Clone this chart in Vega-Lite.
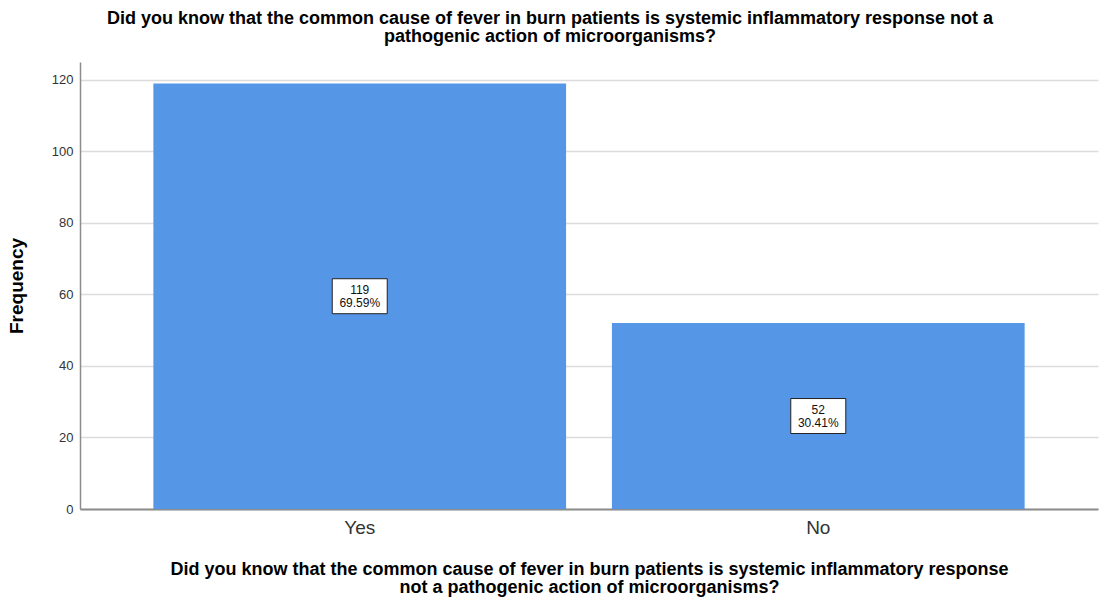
{
  "$schema": "https://vega.github.io/schema/vega-lite/v6.json",
  "width": 1018,
  "height": 447,
  "autosize": "none",
  "padding": {"left": 80, "top": 62, "right": 1, "bottom": 92},
  "background": "white",
  "config": {
    "font": "Liberation Sans",
    "view": {"stroke": null}
  },
  "title": {
    "text": ["Did you know that the common cause of fever in burn patients is systemic inflammatory response not a", "pathogenic action of microorganisms?"],
    "anchor": "middle",
    "dx": -39,
    "offset": 16,
    "fontSize": 18,
    "fontWeight": "bold",
    "lineHeight": 18,
    "color": "#000000",
    "font": "Liberation Sans"
  },
  "data": {
    "values": [
      {"answer": "Yes", "count": 119, "pct": "69.59%"},
      {"answer": "No", "count": 52, "pct": "30.41%"}
    ]
  },
  "transform": [{"calculate": "datum.count / 2", "as": "mid"}],
  "encoding": {
    "x": {
      "field": "answer",
      "type": "nominal",
      "sort": ["Yes", "No"],
      "scale": {"paddingInner": 0.1, "paddingOuter": 0.16},
      "axis": {
        "title": ["Did you know that the common cause of fever in burn patients is systemic inflammatory response", "not a pathogenic action of microorganisms?"],
        "titleFontSize": 18,
        "titleFontWeight": "bold",
        "titleLineHeight": 18,
        "titleColor": "#000000",
        "titlePadding": 23,
        "labelAngle": 0,
        "labelFontSize": 19,
        "labelColor": "#333333",
        "labelPadding": 9,
        "ticks": false,
        "domainColor": "#8c8c8c",
        "domainWidth": 2,
        "grid": false
      }
    }
  },
  "layer": [
    {
      "mark": {"type": "bar", "color": "#5596E6"},
      "encoding": {
        "y": {
          "field": "count",
          "type": "quantitative",
          "scale": {"domain": [0, 125], "nice": false},
          "axis": {
            "title": "Frequency",
            "titleFontSize": 19,
            "titleFontWeight": "bold",
            "titleColor": "#000000",
            "titlePadding": 25,
            "values": [0, 20, 40, 60, 80, 100, 120],
            "labelFontSize": 13,
            "labelColor": "#333333",
            "labelPadding": 7,
            "ticks": false,
            "domainColor": "#8c8c8c",
            "domainWidth": 1.5,
            "gridColor": "#dcdcdc",
            "gridWidth": 1.5
          }
        }
      }
    },
    {
      "mark": {
        "type": "point",
        "shape": "M -1 -0.636 L 1 -0.636 L 1 0.636 L -1 0.636 Z",
        "size": 3025,
        "filled": true,
        "fill": "white",
        "stroke": "#222222",
        "strokeWidth": 1,
        "opacity": 1
      },
      "encoding": {
        "y": {"field": "mid", "type": "quantitative"}
      }
    },
    {
      "mark": {"type": "text", "fontSize": 12, "color": "#111111", "dy": -6.5, "baseline": "middle"},
      "encoding": {
        "y": {"field": "mid", "type": "quantitative"},
        "text": {"field": "count", "type": "quantitative"}
      }
    },
    {
      "mark": {"type": "text", "fontSize": 12, "color": "#111111", "dy": 6.5, "baseline": "middle"},
      "encoding": {
        "y": {"field": "mid", "type": "quantitative"},
        "text": {"field": "pct", "type": "nominal"}
      }
    }
  ]
}
